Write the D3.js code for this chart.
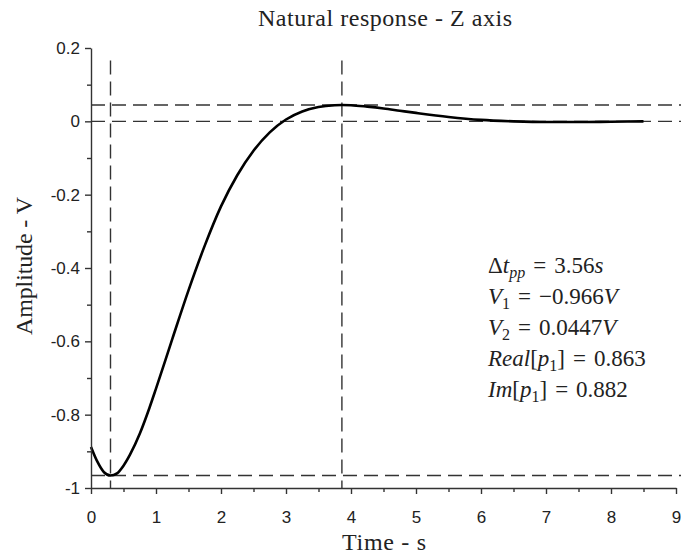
<!DOCTYPE html>
<html>
<head>
<meta charset="utf-8">
<script src="https://cdn.jsdelivr.net/npm/d3@7"></script>
<style>
  body { margin: 0; background: #fff; }
  svg { display: block; }
  text { white-space: pre; }
</style>
</head>
<body>
<div id="chart"></div>
<script>
// time (s) and amplitude (V)
var timeS = [0, 0.1, 0.2, 0.3, 0.4, 0.5, 0.6, 0.75, 0.9, 1.0, 1.25, 1.5, 1.75, 2.0, 2.25, 2.5,
             2.75, 3.0, 3.25, 3.5, 3.75, 3.86, 4.0, 4.25, 4.5, 4.75, 5.0, 5.5, 6.0, 6.5, 7.0, 7.5, 8.0, 8.5];
var amplitudeV = [-0.888, -0.929, -0.957, -0.966, -0.960, -0.939, -0.909, -0.852, -0.781, -0.729, -0.594, -0.461, -0.339, -0.232, -0.147, -0.080,
                  -0.030, 0.005, 0.027, 0.039, 0.044, 0.0447, 0.044, 0.040, 0.035, 0.029, 0.023, 0.012, 0.004, 0.000, -0.002, -0.002, -0.001, 0.000];

var xTicks = [0, 1, 2, 3, 4, 5, 6, 7, 8, 9];
var xMinorTicks = [0.5, 1.5, 2.5, 3.5, 4.5, 5.5, 6.5, 7.5, 8.5];
var yTicks = [0.2, 0, -0.2, -0.4, -0.6, -0.8, -1];
var yTickLabels = ["0.2", "0", "-0.2", "-0.4", "-0.6", "-0.8", "-1"];
var yMinorTicks = [0.1, -0.1, -0.3, -0.5, -0.7, -0.9];

// peak markers
var peakTimes = [0.3, 3.86];
var peakLevels = [0.0447, 0, -0.966];

// "e" = the equals sign with its math spacing
var noteLines = [
  [["Δ", "r"], ["t", "i"], ["pp", "s"], ["=", "e"], ["3.56", "r"], ["s", "i"]],
  [["V", "i"], ["1", "sr"], ["=", "e"], ["−0.966", "r"], ["V", "i"]],
  [["V", "i"], ["2", "sr"], ["=", "e"], ["0.0447", "r"], ["V", "i"]],
  [["Real", "i"], ["[", "r"], ["p", "i"], ["1", "sr"], ["]", "r"], ["=", "e"], ["0.863", "r"]],
  [["Im", "i"], ["[", "r"], ["p", "i"], ["1", "sr"], ["]", "r"], ["=", "e"], ["0.882", "r"]]
];

var w_width = 681, w_height = 559;
var serif = "Liberation Serif",
    sans = "Liberation Sans",
    ink = "#222";

var svg = d3.select("#chart").append("svg")
    .attr("width", w_width)
    .attr("height", w_height);

var x = d3.scaleLinear().domain([0, 9]).range([91, 676]),
    y = d3.scaleLinear().domain([-1, 0.2]).range([488, 48]);

// dashed guides
var dash = "14,7";
svg.selectAll(".hguide").data(peakLevels).enter().append("line")
    .attr("class", "hguide")
    .attr("x1", x(0)).attr("x2", x(9.2))
    .attr("y1", function(d) { return y(d); })
    .attr("y2", function(d) { return y(d); })
    .attr("stroke", "#333").attr("stroke-width", 1.4)
    .attr("stroke-dasharray", dash);

svg.selectAll(".vguide").data(peakTimes).enter().append("line")
    .attr("class", "vguide")
    .attr("x1", function(d) { return x(d); })
    .attr("x2", function(d) { return x(d); })
    .attr("y1", y(0.166)).attr("y2", y(-1))
    .attr("stroke", "#333").attr("stroke-width", 1.4)
    .attr("stroke-dasharray", dash);

// trace
var line = d3.line()
    .curve(d3.curveMonotoneX)
    .x(function(d, i) { return x(timeS[i]); })
    .y(function(d) { return y(d); });

svg.append("path")
    .datum(amplitudeV)
    .attr("d", line)
    .attr("fill", "none")
    .attr("stroke", "#000")
    .attr("stroke-width", 2.6);

// axes
var xAxis = d3.axisBottom(x).tickValues(xTicks).tickSizeInner(6).tickSizeOuter(0).tickPadding(17),
    xMinor = d3.axisBottom(x).tickValues(xMinorTicks).tickSize(4).tickFormat(""),
    yAxis = d3.axisLeft(y).tickValues(yTicks).tickSizeInner(6).tickSizeOuter(0).tickPadding(5)
        .tickFormat(function(d, i) { return yTickLabels[i]; }),
    yMinor = d3.axisLeft(y).tickValues(yMinorTicks).tickSize(4).tickFormat("");

var gx = svg.append("g").attr("transform", "translate(0," + y(-1) + ")");
gx.call(xAxis);
gx.append("g").call(xMinor).select(".domain").remove();

var gy = svg.append("g").attr("transform", "translate(" + x(0) + ",0)");
gy.call(yAxis);
gy.append("g").call(yMinor).select(".domain").remove();

svg.selectAll(".domain, .tick line")
    .attr("stroke", "#333").attr("stroke-width", 1.4);
svg.selectAll(".tick text")
    .attr("fill", ink)
    .attr("font-family", sans)
    .attr("font-size", 17);

// titles, stretched to the width of the original LaTeX set type
svg.append("text")
    .attr("x", 258).attr("y", 26)
    .attr("fill", ink)
    .attr("font-family", serif).attr("font-size", 24)
    .attr("textLength", 254).attr("lengthAdjust", "spacing")
    .text("Natural response - Z axis");

svg.append("text")
    .attr("x", 342).attr("y", 550)
    .attr("fill", ink)
    .attr("font-family", serif).attr("font-size", 24)
    .attr("textLength", 84).attr("lengthAdjust", "spacing")
    .text("Time - s");

svg.append("text")
    .attr("transform", "translate(32,335) rotate(-90)")
    .attr("fill", ink)
    .attr("font-family", serif).attr("font-size", 24)
    .attr("textLength", 138).attr("lengthAdjust", "spacing")
    .text("Amplitude - V");

// parameter box
var note = svg.append("g").attr("transform", "translate(488,273)");
noteLines.forEach(function(parts, k) {
  var t = note.append("text")
      .attr("x", 0).attr("y", k * 31)
      .attr("fill", ink)
      .attr("font-family", serif).attr("font-size", 23);
  var shift = 0, prev = null;
  parts.forEach(function(p) {
    var sub = p[1].charAt(0) === "s";
    var ts = t.append("tspan").text(p[0]);
    ts.attr("font-style", (p[1] === "i" || p[1] === "s") ? "italic" : "normal");
    if (sub) ts.attr("font-size", 16);
    var dy = (sub ? 5 : 0) - shift;
    if (dy) ts.attr("dy", dy);
    shift = sub ? 5 : 0;
    if (p[1] === "e" || prev === "e") ts.attr("dx", 8);
    prev = p[1];
  });
});
</script>
</body>
</html>
